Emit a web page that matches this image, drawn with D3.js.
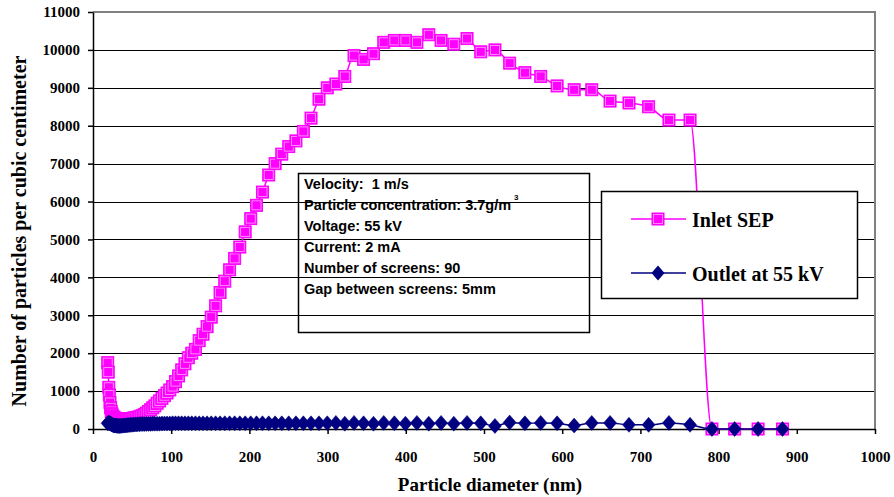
<!DOCTYPE html>
<html>
<head>
<meta charset="utf-8">
<script src="https://cdn.jsdelivr.net/npm/d3@7"></script>
<style>
    body { margin: 0; background: #fff; }
    #chart { width: 894px; height: 497px; }
    .serif { font-family: 'Liberation Serif', 'Times New Roman', serif; font-weight: bold; }
    .sans { font-family: 'Liberation Sans', Arial, sans-serif; font-weight: bold; white-space: pre; }
</style>
</head>
<body>
<div id="chart"></div>
<script>
// particle diameter bins (nm)
const diameters = [18.8, 19.5, 20.2, 20.9, 21.7, 22.5, 23.3, 24.1, 25.0, 25.9, 26.9, 27.9, 28.9, 30.0,
    31.1, 32.2, 33.4, 34.6, 35.9, 37.2, 38.5, 40.0, 41.4, 42.9, 44.5, 46.1, 47.8, 49.6, 51.4, 53.3,
    55.2, 57.3, 59.4, 61.5, 63.8, 66.1, 68.5, 71.0, 73.7, 76.4, 79.1, 82.0, 85.1, 88.2, 91.4, 94.7,
    98.2, 101.8, 105.5, 109.4, 113.4, 117.6, 121.9, 126.3, 131.0, 135.8, 140.7, 145.9, 151.2, 156.8,
    162.5, 168.5, 174.7, 181.1, 187.7, 194.6, 201.7, 209.1, 216.7, 224.7, 232.9, 241.4, 250.3, 259.5,
    269.0, 278.8, 289.0, 299.6, 310.6, 322.0, 333.8, 346.0, 358.7, 371.8, 385.4, 399.5, 414.2, 429.4,
    445.1, 461.4, 478.3, 495.8, 514.0, 532.8, 552.3, 572.5, 593.5, 615.3, 637.8, 661.2, 685.4, 710.5,
    736.5, 763.5, 791.5, 820.5, 850.5, 881.7]

const inletSEP = [1750, 1500, 1100, 900, 700, 560, 460, 400, 350, 320, 300, 285, 280, 275,
    270, 265, 262, 260, 258, 258, 258, 260, 260, 262, 265, 268, 272, 278, 285, 292,
    300, 310, 322, 340, 360, 385, 420, 460, 510, 560, 610, 680, 740, 810, 880, 950,
    1030, 1120, 1250, 1400, 1560, 1720, 1880, 2000, 2100, 2330, 2500, 2700, 2950, 3250,
    3600, 3900, 4200, 4500, 4800, 5200, 5550, 5900, 6250, 6700, 7000, 7250, 7450, 7600,
    7850, 8200, 8700, 9000, 9100, 9300, 9850, 9750, 9900, 10200, 10250, 10250, 10200, 10400,
    10250, 10150, 10300, 9950, 10000, 9650, 9400, 9300, 9050, 8950, 8950, 8650, 8600, 8500,
    8150, 8150, 0, 0, 0, 0]

const outlet55kV = [150, 160, 170, 160, 150, 140, 130, 120, 110, 100, 95, 90, 90, 85,
    85, 80, 80, 80, 85, 85, 90, 90, 95, 100, 100, 105, 110, 110, 115, 120,
    120, 125, 125, 130, 130, 130, 135, 135, 135, 140, 140, 140, 140, 145, 145, 145,
    145, 150, 150, 150, 150, 150, 150, 150, 150, 150, 150, 150, 150, 150,
    150, 150, 150, 150, 150, 150, 150, 150, 150, 150, 150, 150, 150, 150,
    150, 150, 150, 150, 160, 140, 160, 150, 140, 160, 150, 140, 160, 140,
    160, 140, 160, 150, 80, 170, 150, 160, 150, 90, 160, 160, 110, 110,
    160, 110, 0, 0, 0, 0]

const xTicks = [0, 100, 200, 300, 400, 500, 600, 700, 800, 900, 1000]
const yTicks = [0, 1000, 2000, 3000, 4000, 5000, 6000, 7000, 8000, 9000, 10000, 11000]

const infoLines = ['Velocity:  1 m/s', 'Particle concentration: 3.7g/m', 'Voltage: 55 kV',
    'Current: 2 mA', 'Number of screens: 90', 'Gap between screens: 5mm']

const width = 894
const height = 497
const plot = {left: 93, right: 875, top: 12, bottom: 429}
const serifFont = "'Liberation Serif', 'Times New Roman', serif"

const svg = d3.select('#chart').append('svg')
    .attr('width', width)
    .attr('height', height)
    .attr('viewBox', `0 0 ${width} ${height}`)

const xScale = d3.scaleLinear()
    .domain([0, 1000])
    .range([plot.left, plot.right])
const yScale = d3.scaleLinear()
    .domain([0, 11000])
    .range([plot.bottom, plot.top])

// 网格线
svg.append('g')
    .selectAll('line')
    .data(yTicks.slice(1, -1))
    .join('line')
    .attr('x1', plot.left)
    .attr('x2', plot.right)
    .attr('y1', d => Math.round(yScale(d)) + 0.5)
    .attr('y2', d => Math.round(yScale(d)) + 0.5)
    .attr('stroke', '#000')
    .attr('stroke-width', 1)

// plot area border (top / right)
svg.append('path')
    .attr('d', `M${plot.left},${plot.top}H${plot.right}V${plot.bottom}`)
    .attr('fill', 'none')
    .attr('stroke', '#808080')
    .attr('stroke-width', 2)

const styleTicks = g => g
    .attr('font-family', serifFont)
    .call(g => g.selectAll('.domain').attr('stroke-width', 1.5))
    .call(g => g.selectAll('.tick line').attr('stroke-width', 1.5))
    .call(g => g.selectAll('text')
        .style('font-family', serifFont)
        .style('font-weight', 'bold')
        .style('font-size', '15px')
        .attr('fill', '#000'))

const xAxis = g => g
    .attr('transform', `translate(0, ${plot.bottom})`)
    .call(d3.axisBottom(xScale).tickValues(xTicks).tickFormat(d3.format('d'))
        .tickSize(5).tickSizeOuter(0).tickPadding(17))
    .call(styleTicks)

const yAxis = g => g
    .attr('transform', `translate(${plot.left}, 0)`)
    .call(d3.axisLeft(yScale).tickValues(yTicks).tickFormat(d3.format('d'))
        .tickSize(5).tickSizeOuter(0).tickPadding(8))
    .call(styleTicks)

svg.append('g').call(xAxis)
svg.append('g').call(yAxis)

// axis titles
svg.append('text')
    .attr('class', 'serif')
    .attr('x', 490)
    .attr('y', 491)
    .attr('text-anchor', 'middle')
    .style('font-size', '19px')
    .text('Particle diameter (nm)')

svg.append('text')
    .attr('class', 'serif')
    .attr('transform', 'translate(26, 231) rotate(-90)')
    .attr('text-anchor', 'middle')
    .style('font-size', '20px')
    .text('Number of particles per cubic centimeter')

const inletData = diameters.map((d, i) => ({x: d, y: inletSEP[i]}))
const outletData = diameters.map((d, i) => ({x: d, y: outlet55kV[i]}))

const line = d3.line()
    .x(d => xScale(d.x))
    .y(d => yScale(d.y))
    .curve(d3.curveMonotoneX)

const magenta = '#ff00ff'
const navy = '#000080'

const drawSquare = (sel, cx, cy) => {
    sel.append('rect')
        .attr('x', cx - 6).attr('y', cy - 6)
        .attr('width', 12).attr('height', 12)
        .attr('fill', magenta)
        .attr('stroke', magenta)
        .attr('stroke-width', 1)
    sel.append('rect')
        .attr('x', cx - 4.5).attr('y', cy - 4.5)
        .attr('width', 9).attr('height', 9)
        .attr('fill', 'none')
        .attr('stroke', '#ffa8ff')
        .attr('stroke-width', 0.8)
}

const diamondPath = (cx, cy) => `M${cx},${cy - 7.5}L${cx + 6.5},${cy}L${cx},${cy + 7.5}L${cx - 6.5},${cy}Z`

// inlet series
svg.append('path')
    .datum(inletData)
    .attr('d', line)
    .attr('fill', 'none')
    .attr('stroke', magenta)
    .attr('stroke-width', 1.5)

const inletMarks = svg.append('g')
inletData.forEach(d => drawSquare(inletMarks, xScale(d.x), yScale(d.y)))

// outlet series
svg.append('path')
    .datum(outletData)
    .attr('d', line)
    .attr('fill', 'none')
    .attr('stroke', navy)
    .attr('stroke-width', 1.5)

svg.append('g')
    .selectAll('path')
    .data(outletData)
    .join('path')
    .attr('d', d => diamondPath(xScale(d.x), yScale(d.y)))
    .attr('fill', navy)
    .attr('stroke', navy)
    .attr('stroke-width', 0.5)

// info box
const info = svg.append('g')
info.append('rect')
    .attr('x', 298.5).attr('y', 173.5)
    .attr('width', 291).attr('height', 159)
    .attr('fill', 'none')
    .attr('stroke', '#000')
    .attr('stroke-width', 1.5)

info.selectAll('text')
    .data(infoLines)
    .join('text')
    .attr('class', 'sans')
    .attr('x', 304)
    .attr('y', (d, i) => 189 + i * 21)
    .style('font-size', '14.5px')
    .text(d => d)

info.append('text')
    .attr('class', 'sans')
    .attr('x', 514)
    .attr('y', 200)
    .style('font-size', '8px')
    .text('3')

// legend
const legend = svg.append('g')
legend.append('rect')
    .attr('x', 601.5).attr('y', 191.5)
    .attr('width', 256).attr('height', 107)
    .attr('fill', '#fff')
    .attr('stroke', '#000')
    .attr('stroke-width', 1.5)

legend.append('line')
    .attr('x1', 631).attr('x2', 686)
    .attr('y1', 219).attr('y2', 219)
    .attr('stroke', magenta).attr('stroke-width', 1.5)
drawSquare(legend, 658, 219)

legend.append('line')
    .attr('x1', 631).attr('x2', 686)
    .attr('y1', 273).attr('y2', 273)
    .attr('stroke', navy).attr('stroke-width', 1.5)
legend.append('path')
    .attr('d', diamondPath(658, 273))
    .attr('fill', navy)

legend.append('text')
    .attr('class', 'serif')
    .attr('x', 692).attr('y', 227)
    .style('font-size', '20px')
    .text('Inlet SEP')

legend.append('text')
    .attr('class', 'serif')
    .attr('x', 692).attr('y', 281)
    .style('font-size', '20px')
    .text('Outlet at 55 kV')
</script>
</body>
</html>
